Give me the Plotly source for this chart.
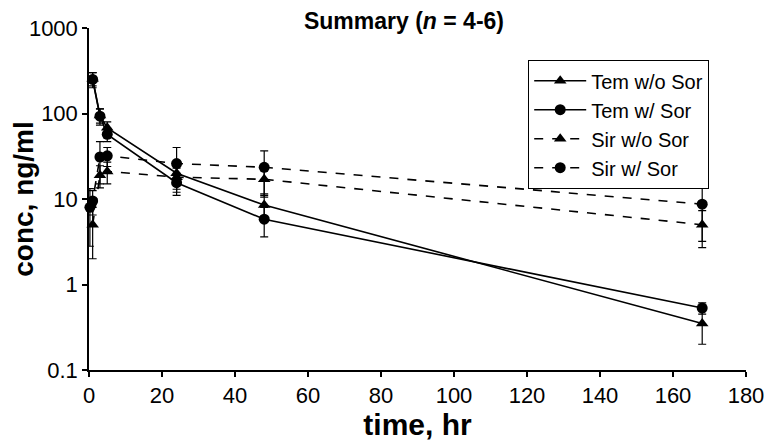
import plotly.graph_objects as go

# ---- data ----
tem_wo_t = [1, 3, 5, 24, 48, 168]
tem_wo_v = [255, 95, 68, 20, 8.5, 0.35]
tem_wo_sd = [45, 18, 12, 5, 3, 0.15]

tem_w_t = [1, 3, 5, 24, 48, 168]
tem_w_v = [250, 93, 57, 15.5, 5.8, 0.53]
tem_w_sd = [50, 20, 10, 4.5, 2.2, 0.08]

sir_wo_t = [1, 3, 5, 24, 48, 168]
sir_wo_v = [5, 19, 21, 18, 17, 5]
sir_wo_sd = [3, 5.5, 6, 5, 6, 2.3]

sir_w_t = [0.25, 1, 3, 5, 24, 48, 168]
sir_w_v = [8, 9.5, 31, 32, 26, 23.5, 8.7]
sir_w_sd = [5.2, 3, 16, 8, 14, 13, 5.5]

series = [
    ("Tem w/o Sor", tem_wo_t, tem_wo_v, tem_wo_sd, "triangle-up", "solid"),
    ("Tem w/ Sor", tem_w_t, tem_w_v, tem_w_sd, "circle", "solid"),
    ("Sir w/o Sor", sir_wo_t, sir_wo_v, sir_wo_sd, "triangle-up", "dash"),
    ("Sir w/ Sor", sir_w_t, sir_w_v, sir_w_sd, "circle", "dash"),
]

ytickvals = [0.1, 1, 10, 100, 1000]
yticktext = ["0.1", "1", "10", "100", "1000"]
xtickvals = [0, 20, 40, 60, 80, 100, 120, 140, 160, 180]

FONT = "Liberation Sans, Arial, sans-serif"
OFF = 8  # page body margin compensation

fig = go.Figure()
for name, t, v, sd, sym, dash in series:
    fig.add_trace(go.Scatter(
        x=t, y=v, name=name, mode="lines+markers",
        line=dict(color="black", width=1.6, dash=dash),
        marker=dict(symbol=sym, size=11, color="black"),
        error_y=dict(type="data", array=sd, visible=True, color="black",
                     thickness=1.2, width=4),
        cliponaxis=False,
    ))

fig.update_layout(
    template="none",
    width=773, height=445,
    margin=dict(l=89 - OFF, r=27 + OFF, t=28 - OFF, b=75 + OFF, autoexpand=False),
    paper_bgcolor="white", plot_bgcolor="white",
    font=dict(family=FONT, size=22, color="black"),
    title=dict(text="<b>Summary (<i>n</i> = 4-6)</b>", x=(404 - OFF) / 773, xanchor="center",
               y=1, yanchor="top", pad=dict(t=5, b=0), font=dict(size=23)),
    showlegend=True,
    legend=dict(x=(528 - 89) / 657, y=(370 - 60) / 342, xanchor="left", yanchor="top",
                bordercolor="black", borderwidth=1.2, bgcolor="white",
                font=dict(size=20), tracegroupgap=0, itemwidth=52),
)
fig.update_xaxes(
    range=[0, 180], tickvals=xtickvals, showgrid=False, zeroline=False,
    showline=True, linecolor="black", linewidth=1.5, automargin=False,
    ticks="outside", ticklen=5, tickcolor="black", tickwidth=1.5,
    tickfont=dict(size=22),
    title=dict(text="<b>time, hr</b>", font=dict(size=30), standoff=4),
)
fig.update_yaxes(
    type="log", range=[-1, 3], tickvals=ytickvals, ticktext=yticktext,
    showgrid=False, zeroline=False, automargin=False,
    showline=True, linecolor="black", linewidth=1.5,
    ticks="outside", ticklen=5, tickcolor="black", tickwidth=1.5,
    tickfont=dict(size=22),
    title=dict(text="<b>conc, ng/ml</b>", font=dict(size=28), standoff=0),
)

fig.write_html("out.html")
